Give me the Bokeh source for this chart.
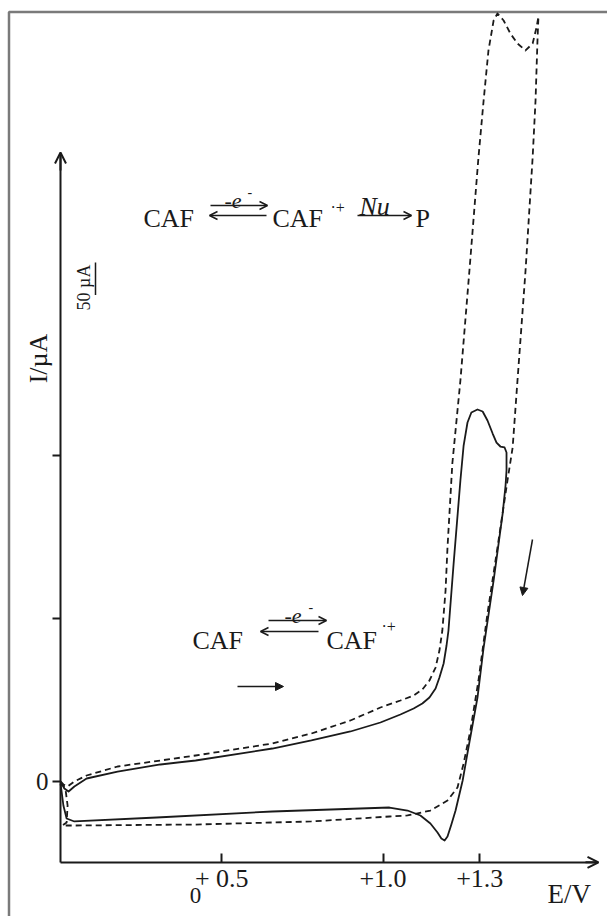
from math import pi
from bokeh.plotting import figure
from bokeh.models import FixedTicker, Label, Arrow, OpenHead, NormalHead
from bokeh.embed import file_html
from bokeh.resources import INLINE

# ---------------- data ----------------
e_ticks = [0.5, 1.0, 1.3]
e_tick_labels = ["+ 0.5", "+1.0", "+1.3"]
i_ticks = [0, 250, 500]
i_tick_labels = ["0", "", ""]
scale_bar_uA = 50

# solid voltammogram (forward scan then reverse scan), E in V, I in uA
solid_E = [0.000, 0.012, 0.025, 0.043, 0.081, 0.177, 0.310, 0.419, 0.657, 0.778,
           0.899, 0.992, 1.054, 1.095, 1.122, 1.144, 1.163, 1.175, 1.188, 1.197,
           1.203, 1.219, 1.240, 1.250, 1.262, 1.274, 1.293, 1.309, 1.324, 1.340,
           1.352, 1.364, 1.377,
           1.383, 1.383, 1.380, 1.371, 1.343, 1.312, 1.293, 1.265, 1.247, 1.225,
           1.212, 1.200, 1.191, 1.181, 1.169, 1.147, 1.116, 1.076, 1.020, 0.657,
           0.298, 0.043, 0.019, 0.009, 0.003, 0.000]
solid_I = [0.0, -10.7, -15.3, -7.7, 4.6, 15.3, 26.1, 32.2, 50.6, 62.9,
           76.7, 90.5, 102.8, 112.0, 119.6, 128.8, 142.6, 159.5, 181.0, 208.6,
           231.6, 334.4, 461.7, 515.3, 550.6, 566.0, 570.6, 567.5, 553.7, 533.7,
           519.9, 513.8, 512.3,
           504.6, 477.0, 454.0, 411.0, 308.3, 205.5, 128.8, 52.1, 1.5, -44.5,
           -66.0, -84.4, -90.5, -87.4, -78.2, -64.4, -52.1, -44.5, -39.9, -46.0,
           -55.2, -61.3, -56.7, -36.8, -13.8, -3.1]

# dashed voltammogram
dashed_E = [0.000, 0.009, 0.022, 0.043, 0.081, 0.177, 0.310, 0.419, 0.657, 0.778,
            0.899, 0.992, 1.054, 1.095, 1.122, 1.144, 1.163, 1.175, 1.184, 1.194,
            1.200, 1.215, 1.240, 1.268, 1.296, 1.312, 1.327, 1.343, 1.355, 1.374,
            1.395, 1.417, 1.442, 1.464, 1.476, 1.482,
            1.479, 1.473, 1.464, 1.442, 1.417, 1.402, 1.386, 1.355, 1.324, 1.296,
            1.271, 1.250, 1.231, 1.200, 1.147, 1.076, 1.020, 0.778, 0.419, 0.037,
            0.006, 0.019, 0.022, 0.016, 0.006]
dashed_I = [0.0, -4.6, -7.7, 0.0, 9.2, 23.0, 32.2, 39.9, 58.3, 73.6,
            93.6, 113.5, 124.2, 131.9, 141.1, 154.9, 174.8, 200.9, 231.6, 292.9,
            358.9, 487.7, 615.0, 783.7, 957.1, 1044.5, 1121.2, 1167.2, 1177.9, 1167.2,
            1147.2, 1131.9, 1121.2, 1131.9, 1156.4, 1173.3,
            1136.5, 1044.5, 957.1, 783.7, 615.0, 512.3, 461.7, 358.9, 257.7, 154.9,
            78.2, 27.6, -9.2, -29.1, -44.5, -52.1, -53.7, -61.3, -66.0, -67.5,
            -67.5, -62.9, -36.8, -13.8, -3.1]

# ---------------- layout ----------------
W, H = 607, 916
X0_PX, PX_PER_V = 60, 322.5      # pixel column of E = 0, pixels per volt
Y0_PX, PX_PER_UA = 781, 0.652    # pixel row of I = 0, pixels per microampere
AXIS_I = -124.0                  # current level where the E axis is drawn


def px2E(px):
    return (px - X0_PX) / PX_PER_V


def py2I(py):
    return (Y0_PX - py) / PX_PER_UA


FONT = "Liberation Serif"
INK = "#1a1a1a"

p = figure(width=W, height=H,
           x_range=(px2E(0), px2E(W)), y_range=(py2I(H), py2I(0)),
           output_backend="svg", toolbar_location=None, title=None,
           min_border=0)
p.outline_line_color = None
p.xgrid.visible = False
p.ygrid.visible = False
p.background_fill_color = "white"
p.border_fill_color = "white"

# axes
xa = p.xaxis[0]
xa.fixed_location = AXIS_I
xa.bounds = (0, px2E(597))
xa.ticker = FixedTicker(ticks=e_ticks)
xa.major_label_overrides = {t: s for t, s in zip(e_ticks, e_tick_labels)}
xa.major_tick_in = 9
xa.major_tick_out = 0
xa.minor_tick_line_color = None
xa.axis_line_width = 2
xa.major_tick_line_width = 2
xa.axis_line_color = INK
xa.major_tick_line_color = INK
xa.major_label_text_font = FONT
xa.major_label_text_font_size = "26px"
xa.major_label_text_color = INK
xa.major_label_standoff = 2

ya = p.yaxis[0]
ya.fixed_location = 0
ya.bounds = (AXIS_I, py2I(153))
ya.ticker = FixedTicker(ticks=i_ticks)
ya.major_label_overrides = {t: s for t, s in zip(i_ticks, i_tick_labels)}
ya.major_tick_in = 0
ya.major_tick_out = 8
ya.minor_tick_line_color = None
ya.axis_line_width = 2
ya.major_tick_line_width = 2
ya.axis_line_color = INK
ya.major_tick_line_color = INK
ya.major_label_text_font = FONT
ya.major_label_text_font_size = "25px"
ya.major_label_text_color = INK
ya.major_label_standoff = 4

# axis arrow heads
p.add_layout(Arrow(end=OpenHead(size=11, line_width=2, line_color=INK),
                   x_start=px2E(585), y_start=AXIS_I, x_end=px2E(598), y_end=AXIS_I,
                   line_width=2, line_color=INK))
p.add_layout(Arrow(end=OpenHead(size=11, line_width=2, line_color=INK),
                   x_start=0, y_start=py2I(170), x_end=0, y_end=py2I(152),
                   line_width=2, line_color=INK))

# frame lines (left and top)
p.line([px2E(8.5), px2E(8.5), px2E(W)], [py2I(H), py2I(11.5), py2I(11.5)],
       line_color="#7a7a7a", line_width=2.5)

# curves
p.line(dashed_E, dashed_I, line_color=INK, line_width=1.8, line_dash="6 4",
       line_join="round")
p.line(solid_E, solid_I, line_color=INK, line_width=1.8, line_join="round")

# scale bar
bar_top = py2I(262)
p.segment(x0=[px2E(95)], y0=[bar_top], x1=[px2E(95)], y1=[bar_top - scale_bar_uA],
          line_color=INK, line_width=1.5)


def L(text, px, py, size, style="normal", align="left", baseline="alphabetic", angle=0.0):
    p.add_layout(Label(x=px2E(px), y=py2I(py), text=text, text_font=FONT,
                       text_font_size=f"{size}px", text_font_style=style,
                       text_align=align, text_baseline=baseline, angle=angle,
                       text_color=INK))


def A(x0, y0, x1, y1, head="open", size=8, lw=1.5):
    h = OpenHead(size=size, line_width=lw, line_color=INK) if head == "open" else \
        NormalHead(size=size, line_color=INK, fill_color=INK, line_width=1)
    p.add_layout(Arrow(end=h, x_start=px2E(x0), y_start=py2I(y0),
                       x_end=px2E(x1), y_end=py2I(y1), line_width=lw, line_color=INK))


# axis titles and stray marks
L("I/\u00b5A", 38, 358, 26, align="center", baseline="middle", angle=pi / 2)
L("50 \u00b5A", 83, 287, 18, align="center", baseline="middle", angle=pi / 2)
L("E/V", 547, 893, 27)
L("0", 195, 895, 23, align="center")

# top scheme: CAF <=> CAF.+ --Nu--> P
L("CAF", 143, 218, 26)
A(210, 205, 267, 205)
A(266, 215, 209, 215)
L("-e", 224, 200, 22, style="italic")
L("-", 247, 191, 14)
L("CAF", 272, 218, 26)
L("\u00b7+", 330, 207, 16)
L("Nu", 359, 206, 26, style="italic")
A(357, 215, 411, 215)
L("P", 415, 218, 26)

# middle scheme: CAF <=> CAF.+
L("CAF", 192, 640, 26)
A(268, 620, 326, 620)
A(318, 631, 260, 631)
L("-e", 284, 615, 22, style="italic")
L("-", 308, 606, 14)
L("CAF", 326, 640, 26)
L("\u00b7+", 381, 626, 16)

# scan direction arrows
A(237, 686, 283, 686, head="normal", size=8, lw=1.5)
A(532, 539, 522, 595, head="normal", size=8, lw=1.5)

open("out.html", "w").write(file_html(p, INLINE))
